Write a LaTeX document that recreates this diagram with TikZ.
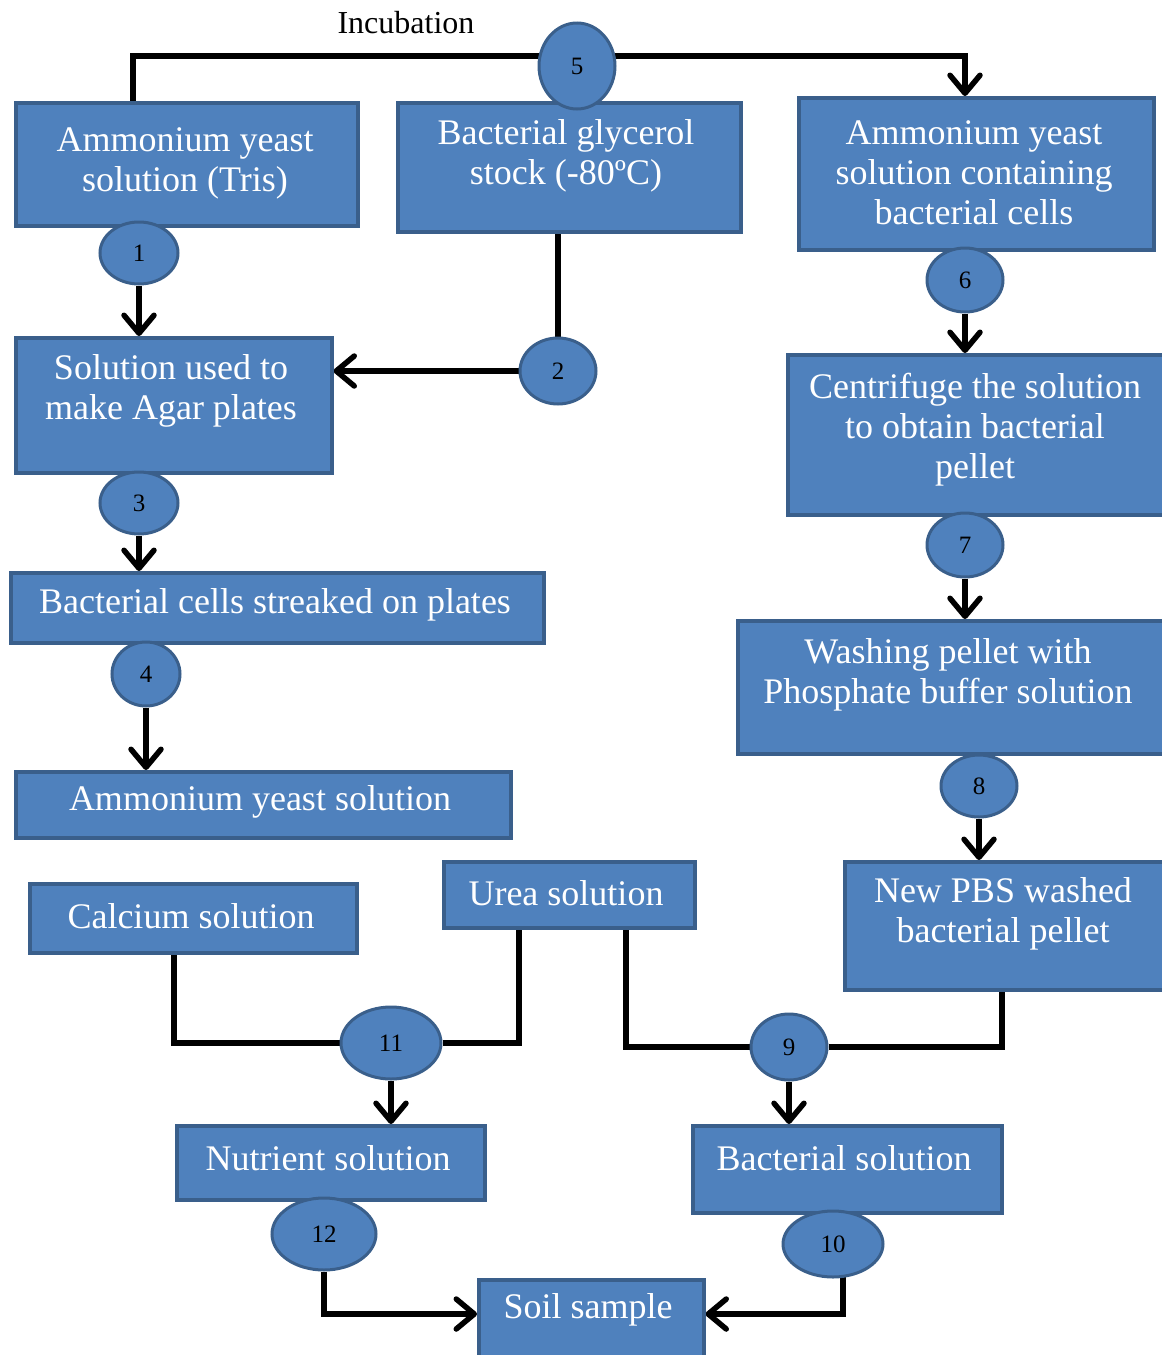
\documentclass[tikz,border=0pt]{standalone}
\usepackage{fontspec}
\setmainfont{Liberation Serif}
\usetikzlibrary{shapes.geometric,arrows.meta,calc}
\definecolor{fillb}{HTML}{4F81BD}
\definecolor{bord}{HTML}{3A5F8B}
\pgfdeclarelayer{bg}
\pgfsetlayers{bg,main}
\tikzset{
  box/.style={draw=bord, fill=fillb, line width=3.5pt, rectangle, inner sep=0pt, anchor=north west},
  txt/.style={text=white, font=\fontsize{36}{40}\selectfont, align=center, inner sep=0pt},
  num/.style={ellipse, draw=bord, fill=fillb, line width=3pt, inner sep=0pt, font=\fontsize{25}{28}\selectfont},
  conn/.style={line width=5.5pt, line join=miter},
  arr/.style={conn, -{Straight Barb[length=18pt, width=30pt, round]}}
}
\begin{document}
\begin{tikzpicture}[x=1pt,y=-1pt]
\useasboundingbox (0,0) rectangle (1162,1355);
% boxes
\node[box, minimum width=342pt, minimum height=123pt] (A) at (14,101) {};
\node[box, minimum width=343pt, minimum height=129pt] (B) at (396,101) {};
\node[box, minimum width=355pt, minimum height=152pt] (C) at (797,96) {};
\node[box, minimum width=316pt, minimum height=135pt] (D) at (14,336) {};
\node[box, minimum width=533pt, minimum height=70pt] (E) at (9,571) {};
\node[box, minimum width=495pt, minimum height=66pt] (F) at (14,770) {};
\node[box, minimum width=384pt, minimum height=160pt] (G) at (786,353) {};
\node[box, minimum width=434pt, minimum height=133pt] (H) at (736,619) {};
\node[box, minimum width=327pt, minimum height=128pt] (I) at (843,860) {};
\node[box, minimum width=327pt, minimum height=69pt] (J) at (28,882) {};
\node[box, minimum width=251pt, minimum height=66pt] (K) at (442,860) {};
\node[box, minimum width=308pt, minimum height=74pt] (L) at (175,1124) {};
\node[box, minimum width=309pt, minimum height=87pt] (M) at (691,1124) {};
\node[box, minimum width=225pt, minimum height=90pt] (N) at (477,1278) {};
% box texts
\node[txt] (tA) at (185,163) {Ammonium yeast\\solution (Tris)};
\node[txt] (tB) at (566,156) {Bacterial glycerol\\stock (-80ºC)};
\node[txt] (tC) at (974,173) {Ammonium yeast\\solution containing\\bacterial cells};
\node[txt] (tD) at (171,391) {Solution used to\\make Agar plates};
\node[txt] (tE) at (275,605) {Bacterial cells streaked on plates};
\node[txt] (tF) at (260,802) {Ammonium yeast solution};
\node[txt] (tG) at (975,430) {Centrifuge the solution\\to obtain bacterial\\pellet};
\node[txt] (tH) at (948,675) {Washing pellet with\\Phosphate buffer solution};
\node[txt] (tI) at (1003,914) {New PBS washed\\bacterial pellet};
\node[txt] (tJ) at (191,916) {Calcium solution};
\node[txt] (tK) at (566,893) {Urea solution};
\node[txt] (tL) at (328,1158) {Nutrient solution};
\node[txt] (tM) at (844,1158) {Bacterial solution};
\node[txt] (tN) at (588,1310) {Soil sample};
\node[font=\fontsize{32}{34}\selectfont, inner sep=0pt] (inc) at (406,23) {Incubation};
% numbered ellipses
\node[num, minimum width=78pt, minimum height=62pt] (e1) at (139,253) {1};
\node[num, minimum width=76pt, minimum height=66pt] (e2) at (558,371) {2};
\node[num, minimum width=78pt, minimum height=62pt] (e3) at (139,503) {3};
\node[num, minimum width=68pt, minimum height=64pt] (e4) at (146,674) {4};
\node[num, minimum width=76pt, minimum height=86pt] (e5) at (577,66) {5};
\node[num, minimum width=76pt, minimum height=64pt] (e6) at (965,280) {6};
\node[num, minimum width=76pt, minimum height=64pt] (e7) at (965,545) {7};
\node[num, minimum width=76pt, minimum height=62pt] (e8) at (979,786) {8};
\node[num, minimum width=76pt, minimum height=66pt] (e9) at (789,1047) {9};
\node[num, minimum width=100pt, minimum height=66pt] (e10) at (833,1244) {10};
\node[num, minimum width=100pt, minimum height=72pt] (e11) at (391,1043) {11};
\node[num, minimum width=104pt, minimum height=72pt] (e12) at (324,1234) {12};
\coordinate (top) at (0,56);
\coordinate (ax) at (133,0);
\coordinate (jx) at (174,0);
\coordinate (kx) at (519,0);
\coordinate (ux) at (626,0);
\coordinate (ix) at (1002,0);
\coordinate (tx) at (843,0);
% connectors
\begin{pgfonlayer}{bg}
\draw[conn] (ax |- A.north) |- (e5 |- top);
\draw[arr] (e5 |- top) -| (e6 |- C.north);
\draw[arr] (e1) -- (e1 |- D.north);
\draw[conn] (e2 |- B.south) -- (e2);
\draw[arr] (e2) -- (e2 -| D.east);
\draw[arr] (e3) -- (e3 |- E.north);
\draw[arr] (e4) -- (e4 |- F.north);
\draw[arr] (e6) -- (e6 |- G.north);
\draw[arr] (e7) -- (e7 |- H.north);
\draw[arr] (e8) -- (e8 |- I.north);
\draw[conn] (jx |- J.south) |- (e11);
\draw[conn] (e11) -| (kx |- K.south);
\draw[conn] (ux |- K.south) |- (e9);
\draw[conn] (e9) -| (ix |- I.south);
\draw[arr] (e11) -- (e11 |- L.north);
\draw[arr] (e9) -- (e9 |- M.north);
\draw[arr] (e12) |- (N.west |- 0,1314);
\draw[arr] (tx |- e10) |- (N.east |- 0,1314);
\end{pgfonlayer}
\end{tikzpicture}
\end{document}
